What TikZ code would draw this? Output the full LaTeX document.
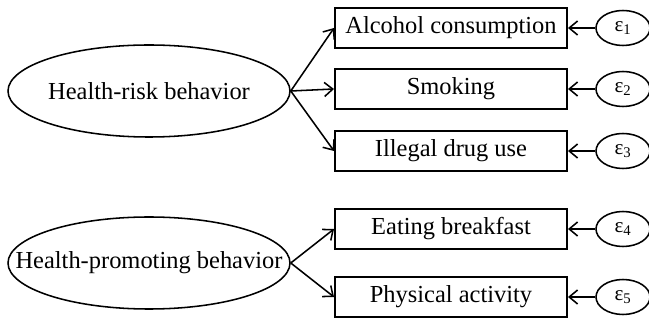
\documentclass[tikz,border=0pt]{standalone}
\usepackage{fontspec}
\setmainfont{Liberation Serif}
\usetikzlibrary{shapes.geometric,arrows.meta}

\tikzset{
	latent/.style={draw, ellipse, line width=1.1pt, inner sep=0pt, minimum width=7.05cm, minimum height=2.3cm},
	observed/.style={draw, rectangle, line width=1.4pt, minimum width=5.8cm, minimum height=1cm, font=\fontsize{17.4}{20}\selectfont},
	errvar/.style={draw, ellipse, line width=1.1pt, inner sep=0pt, minimum width=1.35cm, minimum height=0.875cm, font=\fontsize{15}{17}\selectfont},
	path/.style={line width=1.1pt, -{Straight Barb[length=6pt,width=10pt,line width=1.1pt]}}
}
\newcommand{\err}[1]{ε\textsubscript{\fontsize{10.5}{12}\selectfont #1}}

\begin{document}
\begin{tikzpicture}
				\useasboundingbox (0,0) rectangle (16.225,8);
				\node[latent, label={[font=\fontsize{17.4}{20}\selectfont]center:Health-risk behavior}] (risk) at (3.725,5.725) {};
				\node[latent, label={[font=\fontsize{17.4}{20}\selectfont]center:Health-promoting behavior}] (promo) at (3.725,1.425) {};
				
				\node[observed] (alcohol) at (11.275,7.3) {Alcohol consumption};
				\node[observed] (smoking) at (11.275,5.775) {Smoking};
				\node[observed] (drug) at (11.275,4.225) {Illegal drug use};
				\node[observed] (breakfast) at (11.275,2.275) {Eating breakfast};
				\node[observed] (activity) at (11.275,0.575) {Physical activity};
				
				\node[errvar] (e1) at (15.575,7.3) {\err{1}};
				\node[errvar] (e2) at (15.575,5.775) {\err{2}};
				\node[errvar] (e3) at (15.575,4.225) {\err{3}};
				\node[errvar] (e4) at (15.575,2.275) {\err{4}};
				\node[errvar] (e5) at (15.575,0.575) {\err{5}};
				
				\draw[path] (risk.east) -- (alcohol.west);
				\draw[path] (risk.east) -- (smoking.west);
				\draw[path] (risk.east) -- (drug.west);
				\draw[path] (promo.east) -- (breakfast.west);
				\draw[path] (promo.east) -- (activity.west);
				
				\draw[path] (e1) -- (alcohol);
				\draw[path] (e2) -- (smoking);
				\draw[path] (e3) -- (drug);
				\draw[path] (e4) -- (breakfast);
				\draw[path] (e5) -- (activity);
				\end{tikzpicture}
\end{document}
